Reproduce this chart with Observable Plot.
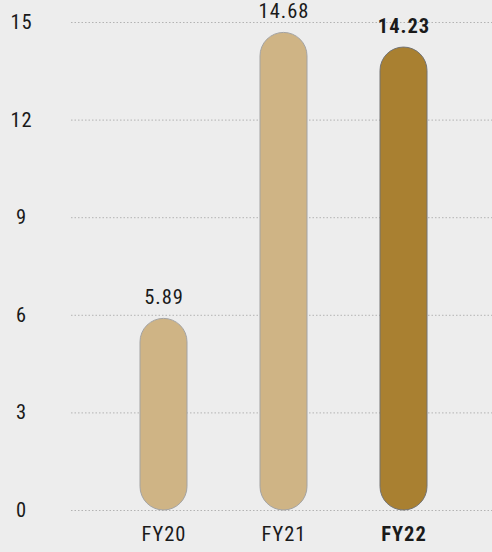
<!DOCTYPE html>
<html><head><meta charset="utf-8">
<script src="https://cdn.jsdelivr.net/npm/d3@7"></script>
<script src="https://cdn.jsdelivr.net/npm/@observablehq/plot@0.6"></script>
<style>
html,body{margin:0;padding:0;background:#ededed;}
</style></head><body><div id="chart"></div>
<script>
const categories = ["FY20", "FY21", "FY22"];
const values = [5.89, 14.68, 14.23];
const highlight = "FY22";
const yTicks = [0, 3, 6, 9, 12, 15];

const data = categories.map((c, i) => ({cat: c, value: values[i], hl: c === highlight}));
const font = '"Liberation Sans Narrow", "Roboto Condensed", Roboto, sans-serif';
const ink = "#1a1a1a";

const chart = Plot.plot({
  width: 492, height: 552,
  marginLeft: 71, marginRight: 0, marginTop: 22, marginBottom: 42,
  style: {background: "#ededed", fontFamily: font, fontSize: "20.5px", color: ink, letterSpacing: "1px"},
  x: {domain: categories, range: [139.5, 428], paddingInner: 0.61, paddingOuter: 0, axis: null},
  y: {domain: [0, 15], axis: null},
  marks: [
    Plot.ruleY(yTicks, {stroke: "#b3b3b3", strokeDasharray: "1.5,2", strokeWidth: 1}),
    Plot.text(yTicks, {y: d => d, frameAnchor: "left", dx: -50, textAnchor: "middle", fill: ink}),
    Plot.barY(data, {filter: d => !d.hl, x: "cat", y: "value", fill: "#cfb485", stroke: "#a3a3a3", strokeWidth: 1, rx: 23.5}),
    Plot.barY(data, {filter: d => d.hl, x: "cat", y: "value", fill: "#a98031", stroke: "#737373", strokeWidth: 1, rx: 23.5}),
    Plot.text(data, {filter: d => !d.hl, x: "cat", y: "value", text: d => d.value.toFixed(2), dy: -21, fill: ink}),
    Plot.text(data, {filter: d => d.hl, x: "cat", y: "value", text: d => d.value.toFixed(2), dy: -21, fill: ink, fontWeight: "bold"}),
    Plot.text(data, {filter: d => !d.hl, x: "cat", text: "cat", frameAnchor: "bottom", dy: 30, fill: ink}),
    Plot.text(data, {filter: d => d.hl, x: "cat", text: "cat", frameAnchor: "bottom", dy: 30, fill: ink, fontWeight: "bold"})
  ]
});
document.getElementById("chart").appendChild(chart);
</script>
</body></html>
